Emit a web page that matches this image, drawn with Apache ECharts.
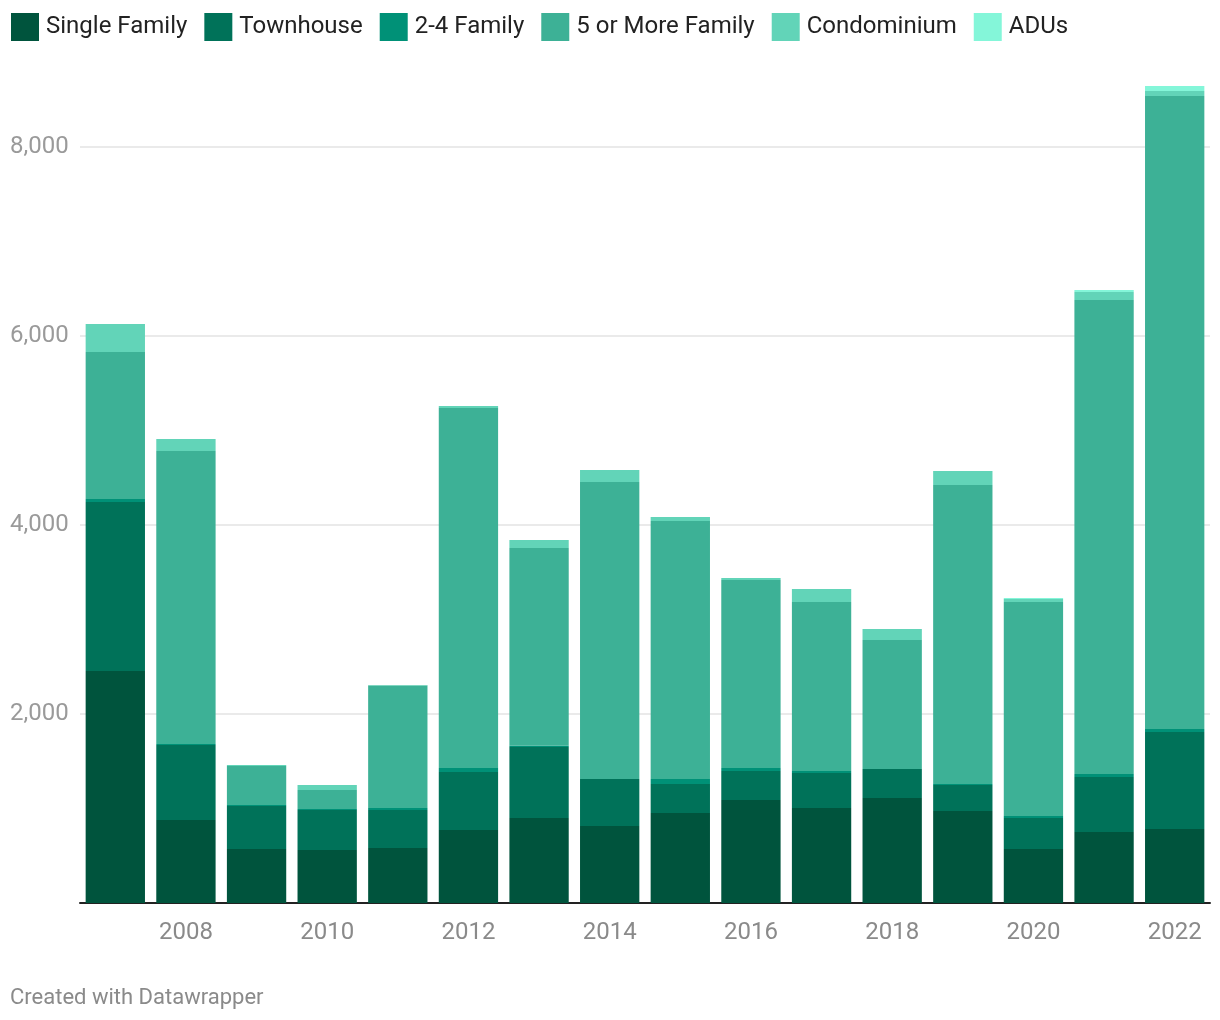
<!DOCTYPE html>
<html>
<head>
<meta charset="utf-8">
<script src="https://cdn.jsdelivr.net/npm/echarts@6/dist/echarts.min.js"></script>
<style>
html,body{margin:0;padding:0;background:#fff;}
#chart{width:1220px;height:1020px;}
</style>
</head>
<body>
<div id="chart"></div>
<script>
const years = ['2007','2008','2009','2010','2011','2012','2013','2014','2015','2016','2017','2018','2019','2020','2021','2022'];
const singleFamily = [2455, 878, 571, 561, 582, 772, 899, 815, 952, 1090, 1005, 1111, 974, 571, 751, 783];
const townhouse    = [1788, 794, 455, 423, 402, 614, 752, 497, 307, 307, 371, 307, 275, 328, 582, 1027];
const twoToFour    = [32, 11, 11, 11, 21, 43, 14, 0, 53, 32, 21, 0, 10, 22, 32, 31];
const fiveOrMore   = [1556, 3100, 413, 201, 1297, 3809, 2092, 3143, 2730, 1989, 1788, 1365, 3164, 2264, 5016, 6699];
const condominium  = [296, 127, 10, 53, 5, 21, 84, 127, 43, 21, 138, 117, 148, 32, 85, 53];
const adus         = [0, 0, 0, 0, 0, 0, 0, 0, 0, 0, 0, 0, 0, 11, 21, 53];
const yTicks = [0, 2000, 4000, 6000, 8000];

const seriesDefs = [
  ['Single Family', singleFamily, '#00543d'],
  ['Townhouse', townhouse, '#007259'],
  ['2-4 Family', twoToFour, '#009177'],
  ['5 or More Family', fiveOrMore, '#3db196'],
  ['Condominium', condominium, '#62d4b8'],
  ['ADUs', adus, '#84f6d9']
];

const chart = echarts.init(document.getElementById('chart'));
chart.setOption({
  animation: false,
  backgroundColor: '#ffffff',
  textStyle: { fontFamily: 'Roboto' },
  legend: {
    left: 11, top: 13, padding: 0,
    itemWidth: 28, itemHeight: 28, itemGap: 17,
    icon: 'rect',
    textStyle: { fontSize: 24, color: '#222', fontFamily: 'Roboto', padding: [2, 0, 0, 2] },
    data: seriesDefs.map(d => d[0])
  },
  grid: { left: 80, right: 10, top: 147, bottom: 117, containLabel: false },
  xAxis: {
    type: 'category',
    data: years,
    axisTick: { show: false },
    axisLine: { lineStyle: { color: '#222', width: 2 } },
    axisLabel: {
      interval: (i) => i % 2 === 1,
      color: '#8a8a8a', fontSize: 24, margin: 18, fontFamily: 'Roboto'
    }
  },
  yAxis: {
    type: 'value',
    min: yTicks[0], max: yTicks[yTicks.length - 1], interval: 2000,
    axisLine: { show: false },
    axisTick: { show: false },
    splitLine: { lineStyle: { color: '#e3e3e3', width: 1.5 } },
    axisLabel: {
      showMinLabel: false,
      align: 'left', margin: 70,
      color: '#9a9a9a', fontSize: 24, fontFamily: 'Roboto',
      padding: [3, 0, 0, 0],
      formatter: (v) => v.toLocaleString('en-US')
    }
  },
  series: seriesDefs.map(d => ({
    name: d[0], type: 'bar', stack: 'total', data: d[1],
    itemStyle: { color: d[2] },
    barCategoryGap: '16%',
    clip: false,
    emphasis: { disabled: true }
  })),
  graphic: [{
    type: 'text', left: 10, top: 987,
    style: { text: 'Created with Datawrapper', fill: '#8a8a8a', fontSize: 22, fontFamily: 'Roboto' }
  }]
});
</script>
</body>
</html>
